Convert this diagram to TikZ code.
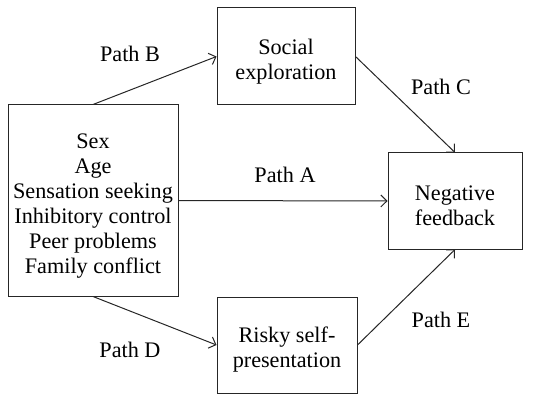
\documentclass[tikz,border=0pt]{standalone}
\usepackage{fontspec}
\setmainfont{Liberation Serif}
\usetikzlibrary{arrows.meta}
\tikzset{%
  tipA/.tip={Straight Barb[length=3pt,width=6pt]},
  varbox/.style={draw=black!85, line width=0.5pt, align=center, inner sep=0pt,
    font=\fontsize{11.1}{12.5}\selectfont},
  pathlbl/.style={font=\fontsize{11.1}{12.5}\selectfont, inner sep=0pt},
  link/.style={draw=black!85, line width=0.5pt, -tipA}
}
\newcommand{\topgap}{\rule{0pt}{12.5pt}}

\begin{document}
\begin{tikzpicture}[x=0.5pt,y=-0.5pt]
\useasboundingbox (0,0) rectangle (534,395);
\node[varbox, minimum width=85pt, minimum height=95.5pt] (pred) at (93,200.5)
  {\topgap Sex\\Age\\Sensation seeking\\Inhibitory control\\Peer problems\\Family conflict};
\node[varbox, minimum width=69pt, minimum height=48.5pt] (social) at (286,56.5)
  {\topgap Social\\exploration};
\node[varbox, minimum width=67pt, minimum height=48pt] (negfb) at (455,201)
  {\topgap Negative\\feedback};
\node[varbox, minimum width=70pt, minimum height=48pt] (risky) at (287,345)
  {\topgap Risky self-\\presentation};
%% paths
\draw[link] (pred.north) -- (social.west);
\draw[link] (social.east) -- (negfb.north);
\draw[link] (pred.east) -- (negfb.west);
\draw[link] (pred.south) -- (risky.west);
\draw[link] (risky.east) -- (negfb.south);
\node[pathlbl] (lblB) at (130,54) {Path B};
\node[pathlbl] (lblC) at (441,87) {Path C};
\node[pathlbl] (lblA) at (285,175) {Path A};
\node[pathlbl] (lblD) at (130,350) {Path D};
\node[pathlbl] (lblE) at (441,320) {Path E};
\end{tikzpicture}
\end{document}
